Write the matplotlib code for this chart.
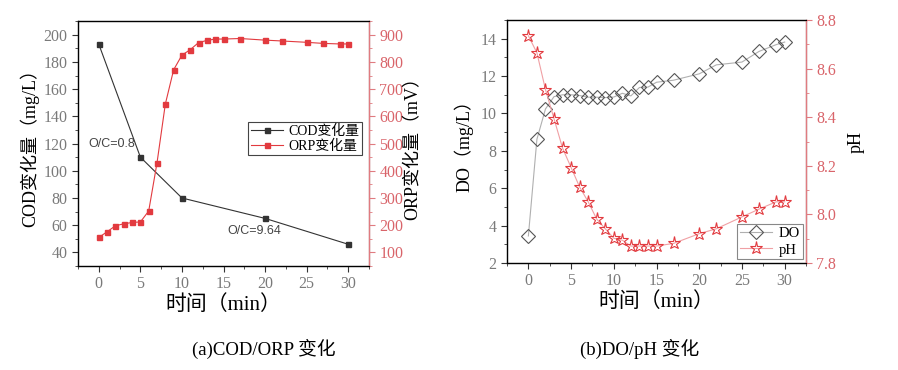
import matplotlib
matplotlib.use("Agg")
import matplotlib.pyplot as plt
from matplotlib.ticker import MultipleLocator, FormatStrFormatter

plt.rcParams['font.family'] = ['Liberation Serif', 'Noto Sans CJK SC', 'DejaVu Sans']

# ---- data (a) ----
cod_t = [0, 5, 10, 20, 30]
cod_v = [193, 110, 80, 65, 46]
orp_t = [0, 1, 2, 3, 4, 5, 6, 7, 8, 9, 10, 11, 12, 13, 14, 15, 17, 20, 22, 25, 27, 29, 30]
orp_v = [155, 176, 198, 205, 210, 212, 252, 429, 645, 771, 825, 845, 871, 879, 884, 884,
         886, 880, 877, 872, 868, 866, 866]

# ---- data (b) ----
t_b = [0, 1, 2, 3, 4, 5, 6, 7, 8, 9, 10, 11, 12, 13, 14, 15, 17, 20, 22, 25, 27, 29, 30]
do_v = [3.45, 8.62, 10.24, 10.9, 11.0, 11.0, 10.96, 10.87, 10.87, 10.85, 10.88, 11.08, 10.94,
        11.39, 11.41, 11.67, 11.78, 12.12, 12.6, 12.75, 13.32, 13.68, 13.82]
ph_v = [8.735, 8.665, 8.514, 8.394, 8.273, 8.193, 8.113, 8.052, 7.981, 7.941, 7.902, 7.894,
        7.870, 7.870, 7.870, 7.870, 7.881, 7.921, 7.941, 7.990, 8.022, 8.052, 8.052]

GRAY_TXT = '#7a7a7a'
RED_AX = '#e07b80'
RED_TXT = '#d9646a'
RED = '#e23a3f'
DARK = '#333333'

fig = plt.figure(figsize=(8.98, 3.70), dpi=100)

def style_left(ax):
    ax.tick_params(axis='both', which='both', direction='out', colors='#333333',
                   labelsize=11.5, labelcolor=GRAY_TXT)
    ax.tick_params(axis='both', which='major', length=4, width=0.8)
    ax.tick_params(axis='both', which='minor', length=2.5, width=0.6)
    for s in ['left', 'bottom', 'top']:
        ax.spines[s].set_color('#333333')
        ax.spines[s].set_linewidth(1.0)

def style_right(ax2):
    ax2.spines['right'].set_color(RED_AX)
    ax2.spines['right'].set_linewidth(1.0)
    ax2.tick_params(axis='y', which='both', direction='out', colors=RED_AX,
                    labelsize=11.5, labelcolor=RED_TXT)
    ax2.tick_params(axis='y', which='major', length=4, width=0.8)
    ax2.tick_params(axis='y', which='minor', length=2.5, width=0.6)

# ---------------- (a) ----------------
ax = fig.add_axes([0.0869, 0.281, 0.324, 0.662])
l1, = ax.plot(cod_t, cod_v, color=DARK, lw=0.8, marker='s', ms=3.6,
              mfc=DARK, mec=DARK, label='COD变化量', zorder=3)
ax.set_xlim(-2.5, 32.5)
ax.set_ylim(30, 210)
ax.xaxis.set_major_locator(MultipleLocator(5))
ax.xaxis.set_minor_locator(MultipleLocator(2.5))
ax.yaxis.set_major_locator(MultipleLocator(20))
ax.yaxis.set_minor_locator(MultipleLocator(10))
style_left(ax)
ax.set_xlabel('时间（min）', fontsize=15, labelpad=2)
ax.set_ylabel('COD变化量（mg/L）', fontsize=13, labelpad=3)
ax.text(-1.3, 120, 'O/C=0.8', family='Liberation Sans', fontsize=9, color='#444444',
        va='center', ha='left')
ax.text(15.5, 55.5, 'O/C=9.64', family='Liberation Sans', fontsize=9, color='#444444',
        va='center', ha='left')

ax2 = ax.twinx()
l2, = ax2.plot(orp_t, orp_v, color=RED, lw=0.8, marker='s', ms=3.6,
               mfc=RED, mec=RED, label='ORP变化量', zorder=3)
ax2.set_ylim(50, 950)
ax2.yaxis.set_minor_locator(MultipleLocator(50))
ax2.set_yticks([100, 200, 300, 400, 500, 600, 700, 800, 900])
style_right(ax2)
ax2.set_ylabel('ORP变化量（mV）', fontsize=13, labelpad=1, rotation=90)
leg = ax2.legend(handles=[l1, l2], loc='center right', bbox_to_anchor=(0.976, 0.52),
                 fontsize=10, frameon=True, fancybox=False, framealpha=1,
                 edgecolor='#444444', borderpad=0.2, handlelength=2.3,
                 handletextpad=0.4, labelspacing=0.1, borderaxespad=0)
leg.get_frame().set_linewidth(0.8)

# ---------------- (b) ----------------
bx = fig.add_axes([0.5646, 0.289, 0.333, 0.657])
d1, = bx.plot(t_b, do_v, color='#b0b0b0', lw=0.8, marker='D', ms=7,
              mfc='none', mec='#555555', mew=0.8, label='DO', zorder=3)
bx.set_xlim(-2.5, 32.5)
bx.set_ylim(2, 15)
bx.xaxis.set_major_locator(MultipleLocator(5))
bx.xaxis.set_minor_locator(MultipleLocator(2.5))
bx.yaxis.set_major_locator(MultipleLocator(2))
bx.yaxis.set_minor_locator(MultipleLocator(1))
style_left(bx)
bx.set_xlabel('时间（min）', fontsize=15, labelpad=2)
bx.set_ylabel('DO（mg/L）', fontsize=13, labelpad=5)

bx2 = bx.twinx()
p1, = bx2.plot(t_b, ph_v, color='#f0a0a4', lw=0.8, marker='*', ms=9.5,
               mfc='none', mec=RED, mew=0.8, label='pH', zorder=3)
bx2.set_ylim(7.8, 8.8)
bx2.yaxis.set_major_locator(MultipleLocator(0.2))
bx2.yaxis.set_minor_locator(MultipleLocator(0.1))
bx2.yaxis.set_major_formatter(FormatStrFormatter('%.1f'))
style_right(bx2)
bx2.set_ylabel('pH', fontsize=13, labelpad=8, rotation=90)
leg2 = bx2.legend(handles=[d1, p1], loc='lower right', bbox_to_anchor=(0.99, 0.015),
                  fontsize=10.5, frameon=True, fancybox=False, framealpha=1,
                  edgecolor='#888888', borderpad=0.2, handlelength=2.2,
                  handletextpad=0.5, labelspacing=0.2, borderaxespad=0)
leg2.get_frame().set_linewidth(0.8)

# captions
fig.text(264 / 898, 1 - 349 / 370, '(a)COD/ORP 变化', fontsize=13.5, ha='center', va='center')
fig.text(640 / 898, 1 - 349 / 370, '(b)DO/pH 变化', fontsize=13.5, ha='center', va='center')

fig.savefig('out.png', dpi=100)
